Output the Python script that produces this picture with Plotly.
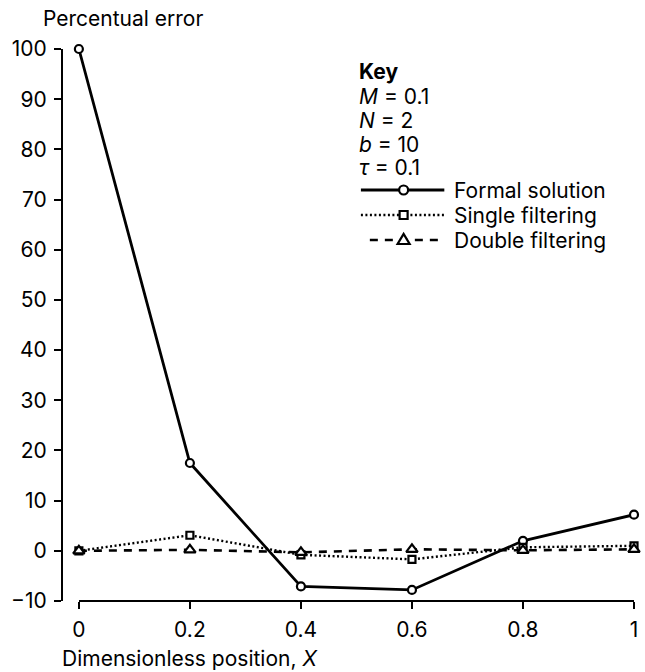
import plotly.graph_objects as go

# ---- data ----
x_pos = [0, 0.2, 0.4, 0.6, 0.8, 1.0]
formal_solution = [100, 17.5, -7.1, -7.8, 2.0, 7.2]
single_filtering = [0, 3.1, -0.8, -1.7, 0.7, 1.0]
double_filtering = [0, 0.2, -0.3, 0.3, 0.1, 0.3]

series_names = ["Formal solution", "Single filtering", "Double filtering"]

x_tick_vals = [0, 0.2, 0.4, 0.6, 0.8, 1.0]
x_tick_text = ["0", "0.2", "0.4", "0.6", "0.8", "1"]
y_tick_vals = [100, 90, 80, 70, 60, 50, 40, 30, 20, 10, 0, -10]
y_tick_text = ["100", "90", "80", "70", "60", "50", "40", "30", "20", "10", "0", "\u221210"]

key_lines = ["<b>Key</b>", "<i>M</i> = 0.1", "<i>N</i> = 2", "<i>b</i> = 10", "<i>\u03c4</i> = 0.1"]

FONT = "Inter, Liberation Sans, Arial, sans-serif"
FS = 21

W, H = 645, 672
L, R, T, B = 62, 7, 49, 71
pw = W - L - R
ph = H - T - B


def px_x(p):
    return (p - L) / pw


def px_y(p):
    return 1 - (p - T) / ph


styles = [
    dict(line=dict(color="black", width=2.8, dash="solid"),
         marker=dict(symbol="circle", size=8, color="white", line=dict(color="black", width=2.2))),
    dict(line=dict(color="black", width=2.4, dash="2px,2.5px"),
         marker=dict(symbol="square", size=7, color="white", line=dict(color="black", width=2.2))),
    dict(line=dict(color="black", width=2.6, dash="8px,7px"),
         marker=dict(symbol="triangle-up", size=10, color="white", line=dict(color="black", width=2.2))),
]
series_vals = [formal_solution, single_filtering, double_filtering]

fig = go.Figure()
for name, vals, st in zip(series_names, series_vals, styles):
    fig.add_trace(go.Scatter(x=x_pos, y=vals, name=name, mode="lines+markers",
                             line=st["line"], marker=st["marker"],
                             cliponaxis=False, showlegend=False))

fig.update_layout(
    width=W, height=H,
    margin=dict(l=L, r=R, t=T, b=B, pad=0),
    paper_bgcolor="white", plot_bgcolor="white",
    font=dict(family=FONT, size=FS, color="black"),
    showlegend=False,
    xaxis=dict(domain=[px_x(79), 1], range=[0, 1], anchor="free", position=0,
               tickmode="array", tickvals=x_tick_vals, ticktext=x_tick_text,
               ticks="outside", ticklen=7, tickwidth=2, tickcolor="black",
               showline=True, linecolor="black", linewidth=2,
               showgrid=False, zeroline=False, ticklabelstandoff=3),
    yaxis=dict(domain=[0, 1], range=[-10, 100], anchor="free", position=0,
               tickmode="array", tickvals=y_tick_vals, ticktext=y_tick_text,
               ticks="outside", ticklen=7, tickwidth=2, tickcolor="black",
               showline=True, linecolor="black", linewidth=2,
               showgrid=False, zeroline=False, ticklabelstandoff=3),
)

# axis titles as left-aligned annotations
fig.add_annotation(text="Percentual error", xref="paper", yref="paper",
                   x=px_x(41), y=px_y(19), xanchor="left", yanchor="middle",
                   showarrow=False, font=dict(family=FONT, size=FS))
fig.add_annotation(text="Dimensionless position, <i>X</i>", xref="paper", yref="paper",
                   x=px_x(60), y=px_y(658), xanchor="left", yanchor="middle",
                   showarrow=False, font=dict(family=FONT, size=FS))

# key text lines
for i, t in enumerate(key_lines):
    fig.add_annotation(text=t, xref="paper", yref="paper",
                       x=px_x(359), y=px_y(72 + 24 * i),
                       xanchor="left", yanchor="middle", showarrow=False,
                       font=dict(family=FONT, size=FS))

# legend samples drawn manually
leg_y = [190, 215, 240]
line_x0 = [363, 363, 372]
line_x1 = 447
mark_x = 406
for i, (name, st) in enumerate(zip(series_names, styles)):
    yy = px_y(leg_y[i])
    fig.add_shape(type="line", xref="paper", yref="paper",
                  x0=px_x(line_x0[i]), x1=px_x(line_x1), y0=yy, y1=yy,
                  line=dict(color="black", width=st["line"]["width"], dash=st["line"]["dash"]))
    mk = st["marker"]
    common = dict(xref="paper", yref="paper", xsizemode="pixel", ysizemode="pixel",
                  xanchor=px_x(mark_x), yanchor=yy, fillcolor="white",
                  line=dict(color="black", width=2.2))
    if mk["symbol"] == "circle":
        fig.add_shape(type="circle", x0=-4.5, x1=4.5, y0=-4.5, y1=4.5, **common)
    elif mk["symbol"] == "square":
        fig.add_shape(type="rect", x0=-4, x1=4, y0=-4, y1=4, **common)
    else:
        fig.add_shape(type="path", path="M -6,-4 L 6,-4 L 0,6 Z", **common)
    fig.add_annotation(text=name, xref="paper", yref="paper",
                       x=px_x(455), y=yy, xanchor="left", yanchor="middle",
                       showarrow=False, font=dict(family=FONT, size=FS))

fig.write_html("out.html",
               config={"displayModeBar": False},
               post_script="document.body.style.margin='0';document.body.style.overflow='hidden';")
